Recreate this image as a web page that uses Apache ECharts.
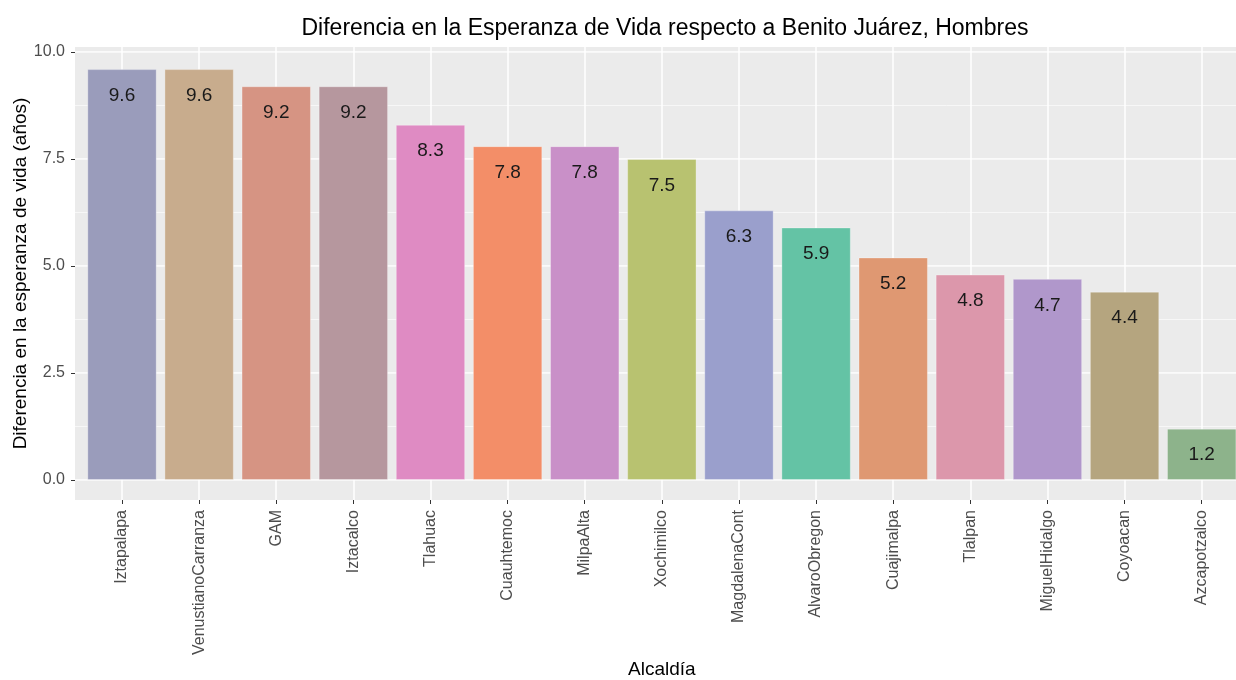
<!DOCTYPE html>
<html>
<head>
<meta charset="utf-8">
<script src="https://cdn.jsdelivr.net/npm/echarts@6/dist/echarts.min.js"></script>
<style>
html,body{margin:0;padding:0;background:#fff;}
#chart{width:1236px;height:680px;}
</style>
</head>
<body>
<div id="chart"></div>
<script>
var categories = ["Iztapalapa","VenustianoCarranza","GAM","Iztacalco","Tlahuac","Cuauhtemoc","MilpaAlta","Xochimilco","MagdalenaCont","AlvaroObregon","Cuajimalpa","Tlalpan","MiguelHidalgo","Coyoacan","Azcapotzalco"];
var values = [9.6, 9.6, 9.2, 9.2, 8.3, 7.8, 7.8, 7.5, 6.3, 5.9, 5.2, 4.8, 4.7, 4.4, 1.2];
var colors = ["#9A9CBB","#C8AC8D","#D69483","#B6979E","#DF8BC3","#F38E68","#C990C8","#B8C270","#9A9FCC","#64C3A5","#DF9872","#DC97AB","#B097CB","#B5A57F","#8DB38B"];

var FONT = "'Liberation Sans', Arial, sans-serif";
var chart = echarts.init(document.getElementById('chart'), null, {renderer: 'canvas'});

var option = {
  backgroundColor: '#ffffff',
  animation: false,
  textStyle: {fontFamily: FONT},
  title: {
    text: 'Diferencia en la Esperanza de Vida respecto a Benito Juárez, Hombres',
    left: 660, top: 12, textAlign: 'center',
    textStyle: {fontFamily: FONT, fontSize: 23, fontWeight: 'normal', color: '#000'}
  },
  grid: [
    // 0: panel background
    {left: 75, top: 47, width: 1173, height: 453, show: true, backgroundColor: '#EBEBEB', borderWidth: 0, z: 0, outerBoundsMode: 'none', containLabel: false},
    // 1: horizontal gridlines, value range 0..10
    {left: 75, top: 52, width: 1173, height: 428, z: 1, outerBoundsMode: 'none', containLabel: false},
    // 2: vertical gridlines, x labels, axis titles (full panel height)
    {left: 122, top: 47, width: 1079.7, height: 453, z: 1, outerBoundsMode: 'none', containLabel: false},
    // 3: bars, value range 0..10
    {left: 122, top: 52, width: 1079.7, height: 428, z: 2, outerBoundsMode: 'none', containLabel: false}
  ],
  xAxis: [
    {gridIndex: 0, type: 'value', show: false, min: 0, max: 1},
    {gridIndex: 1, type: 'value', show: false, min: 0, max: 1},
    {
      gridIndex: 2, type: 'category', data: categories, boundaryGap: false,
      position: 'bottom', z: 1,
      name: 'Alcaldía', nameLocation: 'middle', nameGap: 160, nameMoveOverlap: false,
      nameTextStyle: {fontFamily: FONT, fontSize: 19, color: '#000'},
      axisLine: {show: false, onZero: false},
      axisTick: {show: true, length: 4, lineStyle: {color: '#333', width: 1}},
      axisLabel: {rotate: 90, margin: 10, fontSize: 16, color: '#4D4D4D', fontFamily: FONT, interval: 0},
      splitLine: {show: true, lineStyle: {color: '#ffffff', width: 1.5}}
    },
    {
      gridIndex: 3, type: 'category', data: categories, boundaryGap: false, show: false,
      axisLine: {onZero: false}
    }
  ],
  yAxis: [
    {gridIndex: 0, type: 'value', show: false, min: 0, max: 1},
    {
      gridIndex: 1, type: 'value', min: 0, max: 10, interval: 2.5, z: 1,
      axisLine: {show: false},
      axisTick: {show: true, length: 4, lineStyle: {color: '#333', width: 1}},
      axisLabel: {margin: 10, fontSize: 16, color: '#4D4D4D', fontFamily: FONT,
        formatter: function (v) { return v.toFixed(1); }},
      splitLine: {show: true, lineStyle: {color: '#ffffff', width: 1.5}}
    },
    {
      gridIndex: 1, type: 'value', min: 0, max: 10, interval: 1.25, z: 1,
      axisLine: {show: false}, axisTick: {show: false}, axisLabel: {show: false},
      splitLine: {show: true, lineStyle: {color: '#F7F7F7', width: 1}}
    },
    {
      gridIndex: 2, type: 'value', min: 0, max: 1, z: 1,
      name: 'Diferencia en la esperanza de vida (años)', nameLocation: 'middle', nameGap: 92, nameMoveOverlap: false,
      nameTextStyle: {fontFamily: FONT, fontSize: 19, color: '#000'},
      axisLine: {show: false}, axisTick: {show: false}, axisLabel: {show: false},
      splitLine: {show: false}
    },
    {
      gridIndex: 3, type: 'value', min: 0, max: 10, show: false
    }
  ],
  series: [{
    type: 'bar',
    xAxisIndex: 3, yAxisIndex: 4,
    barWidth: '90%',
    clip: false,
    z: 3,
    data: values.map(function (v, i) {
      return {value: v, itemStyle: {color: colors[i], borderColor: 'rgba(255,255,255,0.3)', borderWidth: 1}};
    }),
    label: {
      show: true, position: 'insideTop', distance: 17,
      fontFamily: FONT, fontSize: 19, color: '#1A1A1A',
      formatter: function (p) { return p.value.toFixed(1); }
    }
  }]
};
chart.setOption(option);
</script>
</body>
</html>
